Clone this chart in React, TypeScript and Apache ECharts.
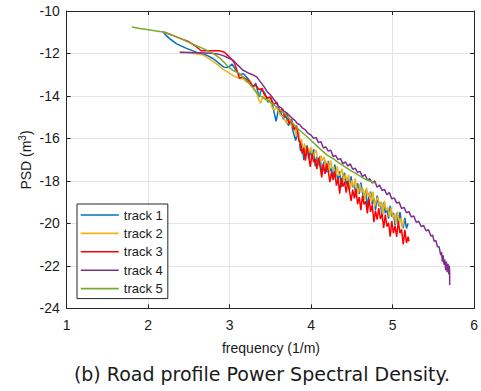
import React, { useEffect, useRef } from "react";
import * as echarts from "echarts";

const xTicks = [1, 2, 3, 4, 5, 6];
const yTicks = [-24, -22, -20, -18, -16, -14, -12, -10];
const trackNames = ["track 1", "track 2", "track 3", "track 4", "track 5"];
const trackColors = ["#0072BD", "#EDB120", "#FF0000", "#7E2F8E", "#77AC30"];

const track1: [number, number][] = [
  [2.18, -10.97], [2.22, -11.15], [2.26, -11.29], [2.35, -11.55], [2.47, -11.76], [2.6, -11.95],
  [2.71, -12.07], [2.8, -12.25], [2.87, -12.47], [2.93, -12.65], [2.98, -12.66], [3.03, -12.5],
  [3.07, -12.75], [3.12, -13.0], [3.17, -12.95], [3.22, -13.17], [3.26, -13.35], [3.29, -13.6],
  [3.32, -13.4], [3.36, -14.05], [3.39, -13.7], [3.43, -13.85], [3.47, -14.3], [3.5, -14.1],
  [3.53, -14.5], [3.57, -15.2], [3.6, -14.6], [3.63, -14.8], [3.66, -15.1], [3.69, -14.9],
  [3.72, -15.4], [3.75, -15.2], [3.78, -15.7], [3.81, -16.1], [3.84, -15.6],
  [3.87, -16.6], [3.89, -16.26], [3.91, -17.02], [3.93, -16.52], [3.95, -16.33], [3.97, -16.98],
  [3.99, -16.59], [4.01, -16.9], [4.03, -16.5], [4.05, -17.31], [4.07, -16.86], [4.09, -17.22],
  [4.11, -16.83], [4.13, -17.68], [4.15, -17.19], [4.17, -17.04], [4.19, -17.6], [4.21, -17.06],
  [4.23, -17.56], [4.25, -17.37], [4.27, -17.97], [4.29, -17.23], [4.31, -17.69], [4.33, -17.94],
  [4.35, -17.55], [4.37, -18.3], [4.39, -17.81], [4.41, -17.62], [4.43, -18.17], [4.45, -17.88],
  [4.47, -18.43], [4.49, -17.79], [4.51, -18.3], [4.53, -18.15], [4.55, -18.76], [4.57, -18.11],
  [4.59, -18.62], [4.61, -18.08], [4.63, -18.53], [4.65, -18.89], [4.67, -18.44], [4.69, -19.25],
  [4.71, -18.71], [4.73, -18.51], [4.75, -19.12], [4.77, -18.82], [4.79, -19.38], [4.81, -18.69],
  [4.83, -19.19], [4.85, -19.0], [4.87, -19.7], [4.89, -19.01], [4.91, -19.52], [4.93, -19.32],
  [4.95, -19.78], [4.97, -19.18], [4.99, -19.69], [5.01, -19.5], [5.03, -20.1], [5.05, -19.51],
  [5.07, -20.01], [5.09, -19.47], [5.11, -19.98], [5.13, -20.23], [5.15, -19.74], [5.17, -20.24],
  [5.19, -20.0],
];

const track2: [number, number][] = [
  [2.38, -11.92], [2.5, -11.97], [2.6, -12.02], [2.67, -12.07], [2.75, -12.25], [2.83, -12.47],
  [2.92, -12.75], [3.0, -12.94], [3.06, -13.08], [3.12, -13.17], [3.17, -13.2], [3.21, -13.35],
  [3.25, -13.3], [3.29, -13.6], [3.33, -13.85], [3.36, -14.2], [3.38, -14.35], [3.41, -14.0],
  [3.45, -14.2], [3.49, -14.1], [3.52, -14.55], [3.55, -14.67], [3.58, -14.5], [3.62, -14.9],
  [3.66, -15.0], [3.7, -15.3], [3.73, -15.1], [3.76, -15.45], [3.79, -15.4], [3.82, -15.9],
  [3.84, -15.6],
  [3.86, -16.23], [3.88, -16.03], [3.9, -16.54], [3.92, -16.24], [3.94, -16.8], [3.96, -16.41],
  [3.98, -16.66], [4.0, -16.42], [4.02, -16.97], [4.04, -16.68], [4.06, -16.54], [4.08, -16.99],
  [4.1, -17.3], [4.12, -16.8], [4.14, -17.06], [4.16, -16.87], [4.18, -17.37], [4.2, -17.08],
  [4.22, -17.58], [4.24, -17.04], [4.26, -17.45], [4.28, -17.35], [4.3, -17.86], [4.32, -17.31],
  [4.34, -17.77], [4.36, -17.63], [4.38, -17.43], [4.4, -18.04], [4.42, -17.69], [4.44, -18.0],
  [4.46, -17.71], [4.48, -18.36], [4.5, -17.97], [4.52, -18.32], [4.54, -17.88], [4.56, -18.29],
  [4.58, -18.59], [4.6, -18.15], [4.62, -18.55], [4.64, -18.41], [4.66, -18.92], [4.68, -18.32],
  [4.7, -18.73], [4.72, -18.53], [4.74, -18.99], [4.76, -18.5], [4.78, -19.2], [4.8, -18.91],
  [4.82, -18.76], [4.84, -19.22], [4.86, -18.98], [4.88, -19.58], [4.9, -18.94], [4.92, -19.39],
  [4.94, -19.25], [4.96, -19.71], [4.98, -19.26], [5.0, -19.72], [5.02, -19.57], [5.04, -20.03],
  [5.06, -19.44], [5.08, -19.89], [5.1, -19.75], [5.12, -20.2], [5.14, -19.81],
];

const track3: [number, number][] = [
  [2.2, -11.0], [2.3, -11.15], [2.4, -11.3], [2.5, -11.45], [2.58, -11.65], [2.65, -11.87],
  [2.75, -11.87], [2.87, -11.87], [2.93, -11.93], [2.98, -12.1], [3.03, -12.3], [3.06, -12.47],
  [3.09, -12.8], [3.12, -13.17], [3.16, -13.1], [3.2, -13.2], [3.24, -13.3], [3.28, -13.55],
  [3.32, -13.5], [3.36, -13.7], [3.4, -13.65], [3.42, -13.9], [3.46, -14.1], [3.5, -14.05],
  [3.54, -14.4], [3.58, -14.3], [3.62, -14.75], [3.65, -14.6], [3.67, -14.98], [3.7, -14.8],
  [3.73, -15.3], [3.76, -15.1], [3.79, -15.6], [3.82, -15.4], [3.85, -16.1],
  [3.87, -16.21], [3.89, -16.72], [3.91, -16.44], [3.93, -17.05], [3.95, -16.42], [3.97, -16.83],
  [3.99, -17.34], [4.01, -16.71], [4.03, -17.12], [4.05, -16.99], [4.07, -17.45], [4.09, -16.91],
  [4.11, -17.33], [4.13, -17.84], [4.15, -17.21], [4.17, -17.67], [4.19, -17.18], [4.21, -17.55],
  [4.23, -18.06], [4.25, -17.58], [4.27, -17.94], [4.29, -17.55], [4.31, -18.22], [4.33, -17.88],
  [4.35, -18.6], [4.37, -17.86], [4.39, -18.27], [4.41, -18.04], [4.43, -18.55], [4.45, -18.02],
  [4.47, -18.48], [4.49, -18.94], [4.51, -18.41], [4.53, -18.82], [4.55, -18.39], [4.57, -19.1],
  [4.59, -18.76], [4.61, -19.38], [4.63, -18.69], [4.65, -19.11], [4.67, -18.97], [4.69, -19.53],
  [4.71, -18.85], [4.73, -19.46], [4.75, -19.13], [4.77, -19.94], [4.79, -19.4], [4.81, -19.82],
  [4.83, -19.28], [4.85, -19.8], [4.87, -19.56], [4.89, -20.22], [4.91, -19.59], [4.93, -20.15],
  [4.95, -19.97], [4.97, -20.63], [4.99, -19.89], [5.01, -20.46], [5.03, -20.12], [5.05, -20.64],
  [5.07, -19.9], [5.09, -20.46], [5.11, -20.28], [5.13, -20.99], [5.15, -20.31], [5.17, -20.92],
  [5.19, -20.63], [5.2, -20.85],
];

const track4: [number, number][] = [
  [2.39, -11.95], [2.5, -11.96], [2.6, -11.97], [2.7, -11.98], [2.78, -11.99], [2.85, -12.02],
  [2.92, -12.1], [2.98, -12.2], [3.04, -12.31], [3.1, -12.55], [3.16, -12.78], [3.22, -12.9],
  [3.28, -13.0], [3.33, -13.1], [3.38, -13.35], [3.42, -13.55], [3.46, -13.8], [3.5, -13.95],
  [3.53, -14.1], [3.56, -14.25], [3.6, -14.5], [3.63, -14.55], [3.66, -14.7], [3.7, -14.8],
  [3.74, -14.95], [3.77, -15.06], [3.8, -15.15], [3.83, -15.3], [3.86, -15.35], [3.89, -15.5],
  [3.93, -15.6], [3.96, -15.75], [4.0, -15.85], [4.03, -16.0], [4.06, -15.95], [4.09, -16.2],
  [4.12, -16.15], [4.15, -16.45], [4.18, -16.4], [4.21, -16.6], [4.24, -16.55], [4.27, -16.85],
  [4.3, -16.8], [4.33, -17.0], [4.36, -16.95], [4.39, -17.2], [4.42, -17.1], [4.45, -17.3],
  [4.48, -17.2], [4.51, -17.45], [4.54, -17.4], [4.57, -17.6], [4.6, -17.55], [4.63, -17.8],
  [4.66, -17.7], [4.69, -17.95], [4.72, -17.9], [4.75, -18.1], [4.78, -18.0], [4.81, -18.3],
  [4.84, -18.2], [4.87, -18.45], [4.9, -18.4], [4.93, -18.65], [4.96, -18.55], [4.99, -18.85],
  [5.02, -18.8], [5.05, -19.05], [5.08, -19.0], [5.11, -19.3], [5.14, -19.25], [5.17, -19.5],
  [5.2, -19.45], [5.23, -19.7], [5.26, -19.65], [5.29, -19.95], [5.32, -19.9], [5.35, -20.15],
  [5.38, -20.1], [5.41, -20.35], [5.44, -20.3], [5.47, -20.6], [5.49, -20.55], [5.51, -20.85],
  [5.53, -20.8], [5.55, -21.1], [5.57, -21.1], [5.59, -21.5], [5.6, -21.35], [5.61, -21.8],
  [5.62, -21.5], [5.63, -21.95], [5.64, -21.7], [5.65, -22.2], [5.66, -21.8], [5.67, -22.3],
  [5.68, -21.9], [5.69, -22.4], [5.695, -22.0], [5.7, -22.3], [5.7, -22.9],
];

const track5: [number, number][] = [
  [1.8, -10.75], [1.9, -10.82], [2.0, -10.88], [2.1, -10.94], [2.2, -11.0], [2.3, -11.15],
  [2.4, -11.3], [2.5, -11.48], [2.6, -11.65], [2.67, -11.76], [2.75, -11.9], [2.82, -12.05],
  [2.88, -12.22], [2.94, -12.45], [2.98, -12.62], [3.04, -12.8], [3.12, -12.94], [3.2, -13.25],
  [3.27, -13.55], [3.34, -13.9], [3.42, -14.1], [3.48, -14.25], [3.53, -14.38], [3.6, -14.6],
  [3.68, -14.85], [3.75, -15.15], [3.81, -15.45], [3.87, -15.65], [3.93, -15.85], [4.0, -16.1],
  [4.07, -16.35], [4.14, -16.6], [4.2, -16.8], [4.27, -16.95], [4.34, -17.15], [4.42, -17.35],
  [4.5, -17.55], [4.55, -17.65], [4.62, -17.82], [4.68, -17.95], [4.75, -18.05], [4.79, -18.12],
];

const tracks = [track1, track2, track3, track4, track5];

export default function App() {
  const ref = useRef<HTMLDivElement>(null);
  useEffect(() => {
    if (!ref.current) return;
    const chart = echarts.init(ref.current, undefined, { renderer: "svg" });
    const axisColor = "#262626";
    const gridColor = "#e4e4e4";
    const font = "Liberation Sans";
    const xMin = xTicks[0];
    const xMax = xTicks[xTicks.length - 1];
    const yMin = yTicks[0];
    const yMax = yTicks[yTicks.length - 1];
    const commonX = {
      type: "value" as const,
      min: xMin,
      max: xMax,
      interval: 1,
      axisLine: { show: true, onZero: false, lineStyle: { color: axisColor, width: 1 } },
      axisTick: { show: true, inside: true, length: 4, lineStyle: { color: axisColor } },
    };
    const commonY = {
      type: "value" as const,
      min: yMin,
      max: yMax,
      interval: 2,
      axisLine: { show: true, onZero: false, lineStyle: { color: axisColor, width: 1 } },
      axisTick: { show: true, inside: true, length: 4, lineStyle: { color: axisColor } },
    };
    chart.setOption({
      animation: false,
      backgroundColor: "#ffffff",
      grid: { left: 66.7, right: 5.3, top: 11, bottom: 82.7, containLabel: false },
      xAxis: [
        {
          ...commonX,
          position: "bottom",
          axisLabel: { show: true, fontFamily: font, fontSize: 14, color: "#1a1a1a", margin: 10 },
          splitLine: { show: true, lineStyle: { color: gridColor, width: 1 } },
        },
        {
          ...commonX,
          position: "top",
          axisLabel: { show: false },
          splitLine: { show: false },
        },
      ],
      yAxis: [
        {
          ...commonY,
          position: "left",
          axisLabel: { show: true, fontFamily: font, fontSize: 14, color: "#1a1a1a", margin: 7 },
          splitLine: { show: true, lineStyle: { color: gridColor, width: 1 } },
        },
        {
          ...commonY,
          position: "right",
          axisLabel: { show: false },
          splitLine: { show: false },
        },
      ],
      legend: {
        orient: "vertical",
        left: 77,
        top: 204,
        padding: [4, 5, 3, 3],
        itemWidth: 38,
        itemHeight: 14,
        itemGap: 4.4,
        backgroundColor: "#ffffff",
        borderColor: axisColor,
        borderWidth: 1,
        borderRadius: 0,
        itemStyle: { opacity: 0 },
        lineStyle: { width: 1.6 },
        textStyle: { fontFamily: font, fontSize: 13, color: "#1a1a1a", lineHeight: 14 },
        data: trackNames,
      },
      series: tracks.map((t, i) => ({
        name: trackNames[i],
        type: "line",
        data: t,
        xAxisIndex: 0,
        yAxisIndex: 0,
        symbol: "none",
        smooth: false,
        lineStyle: { color: trackColors[i], width: 1.5 },
        itemStyle: { color: trackColors[i] },
        z: 2 + i,
      })),
      graphic: [
        {
          type: "text",
          x: 26,
          y: 160,
          rotation: Math.PI / 2,
          style: {
            text: "{a|PSD (m}{b|3}{a|)}",
            textAlign: "center",
            textVerticalAlign: "middle",
            fill: "#1a1a1a",
            rich: {
              a: { fontFamily: font, fontSize: 14, fill: "#1a1a1a" },
              b: { fontFamily: font, fontSize: 10, fill: "#1a1a1a", verticalAlign: "top", padding: [0, 0, 7, 0] },
            },
          },
        },
        {
          type: "text",
          x: 271,
          y: 348,
          style: {
            text: "frequency (1/m)",
            textAlign: "center",
            textVerticalAlign: "middle",
            fontFamily: font,
            fontSize: 14,
            fill: "#1a1a1a",
          },
        },
        {
          type: "text",
          x: 262,
          y: 374,
          style: {
            text: "(b) Road profile Power Spectral Density.",
            textAlign: "center",
            textVerticalAlign: "middle",
            fontFamily: "DejaVu Sans",
            fontSize: 19,
            fill: "#1a1a1a",
          },
        },
      ],
    });
    return () => chart.dispose();
  }, []);
  return (
    <div
      ref={ref}
      style={{ position: "absolute", left: 0, top: 0, width: 481, height: 391 }}
    />
  );
}
